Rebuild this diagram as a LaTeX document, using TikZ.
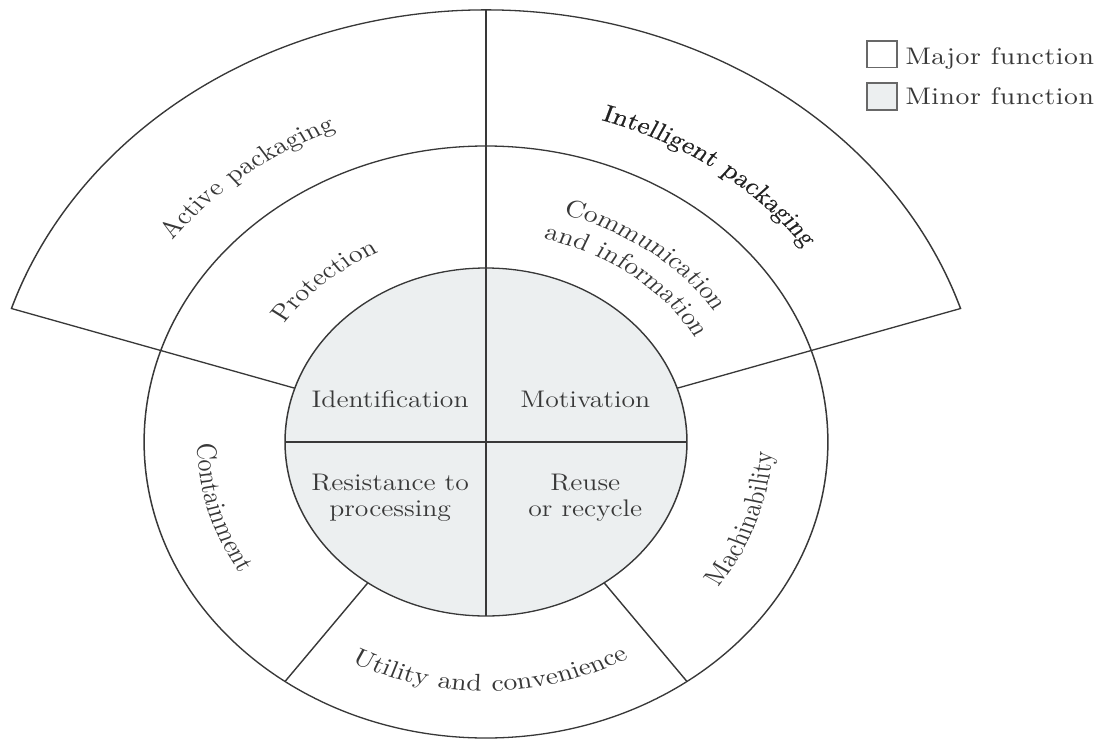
\documentclass[tikz,border=0pt]{standalone}
\usepackage{fontspec}
\usetikzlibrary{decorations.text}

\newfontfamily\spacedfont{lmroman10-regular.otf}[LetterSpace=4]
\newfontfamily\heavyfont{lmroman10-regular.otf}[LetterSpace=4, FakeBold=0.5]
\newfontfamily\keyfont{lmroman10-regular.otf}[LetterSpace=2]
\definecolor{minorfill}{HTML}{ECEFF0}
\definecolor{inkline}{HTML}{383838}
\definecolor{inktext}{HTML}{383838}
\definecolor{inkdark}{HTML}{222222}
\definecolor{legendedge}{HTML}{686868}
\newcommand\labelfont{\fontsize{12}{14}\selectfont}
\newcommand\ringfont{\spacedfont\fontsize{12}{14}\selectfont}
\newcommand\heavyringfont{\heavyfont\fontsize{12}{14}\selectfont}
\newcommand\legendfont{\keyfont\fontsize{12}{14}\selectfont}

\begin{document}
\begin{tikzpicture}[x=0.5pt,y=0.5pt,
  rim/.style={line width=0.65pt, draw=inkline},
  inlabel/.style={anchor=base, inner sep=0pt, text=inktext, font=\labelfont},
  keybox/.style={draw=legendedge, line width=0.8pt, inner sep=0pt,
                 minimum width=13pt, minimum height=13.4pt},
  keytext/.style={anchor=base west, inner sep=0pt, text=inktext, font=\legendfont},
  arclabel/.style={decorate, decoration={text along path, text align=center,
                   text color=inktext, text={|\ringfont|#1}}},
  darkarclabel/.style={decorate, decoration={text along path, text align=center,
                   text color=inkdark, text={|\heavyringfont|#1}}}]

\useasboundingbox (-486,-298) rectangle (616,442);

\begin{scope}[transform canvas={xscale=1.155}]
  % minor functions: the shaded core
  \fill[minorfill] (0,0) circle (174);
  \draw[rim] (0,0) circle (174);
  % middle ring of major functions
  \draw[rim] (0,0) circle (296);
  % outer band: active and intelligent packaging
  \draw[rim] (18:174) -- (18:432) arc[start angle=18, end angle=162, radius=432] -- (162:174);
  % dividers
  \draw[rim] (0,432) -- (0,-174);
  \draw[rim, line width=0.8pt] (-174,0) -- (174,0);
  \draw[rim] (234:174) -- (234:296);
  \draw[rim] (306:174) -- (306:296);

  % labels of the outer band (tops outward)
  \path[arclabel={Active packaging}] (198:338) arc[start angle=198, end angle=58, radius=338];
  \path[darkarclabel={Intelligent packaging}] (124:337) arc[start angle=124, end angle=-16, radius=337];

  % labels of the middle ring, upper half (tops outward)
  \path[arclabel={Protection}] (201:211) arc[start angle=201, end angle=61, radius=211];
  \path[arclabel={Communication}] (123.5:237) arc[start angle=123.5, end angle=-16.5, radius=237];
  \path[arclabel={and information}] (123:209) arc[start angle=123, end angle=-17, radius=209];

  % labels of the middle ring, lower half (tops inward)
  \path[arclabel={Containment}] (126:250) arc[start angle=126, end angle=266, radius=250];
  \path[arclabel={Utility and convenience}] (201:249) arc[start angle=201, end angle=341, radius=249];
  \path[arclabel={Machinability}] (271:248) arc[start angle=271, end angle=411, radius=248];

  % labels of the core
  \node[inlabel] (ident) at (-83,34.7) {Identification};
  \node[inlabel] (motiv) at (86,34.7) {Motivation};
  \node[inlabel] (resistA) at (-83,-48.7) {Resistance to};
  \node[inlabel] (resistB) at (-83,-74.7) {processing};
  \node[inlabel] (reuseA) at (86,-48.7) {Reuse};
  \node[inlabel] (reuseB) at (86,-74.7) {or recycle};

  % legend
  \node[keybox, fill=white] (majorkey) at (342.6,387.7) {};
  \node[keybox, fill=minorfill] (minorkey) at (342.6,345.4) {};
  \node[keytext] (majortext) at (362.8,377.7) {Major function};
  \node[keytext] (minortext) at (362.8,337) {Minor function};
\end{scope}
\end{tikzpicture}
\end{document}
